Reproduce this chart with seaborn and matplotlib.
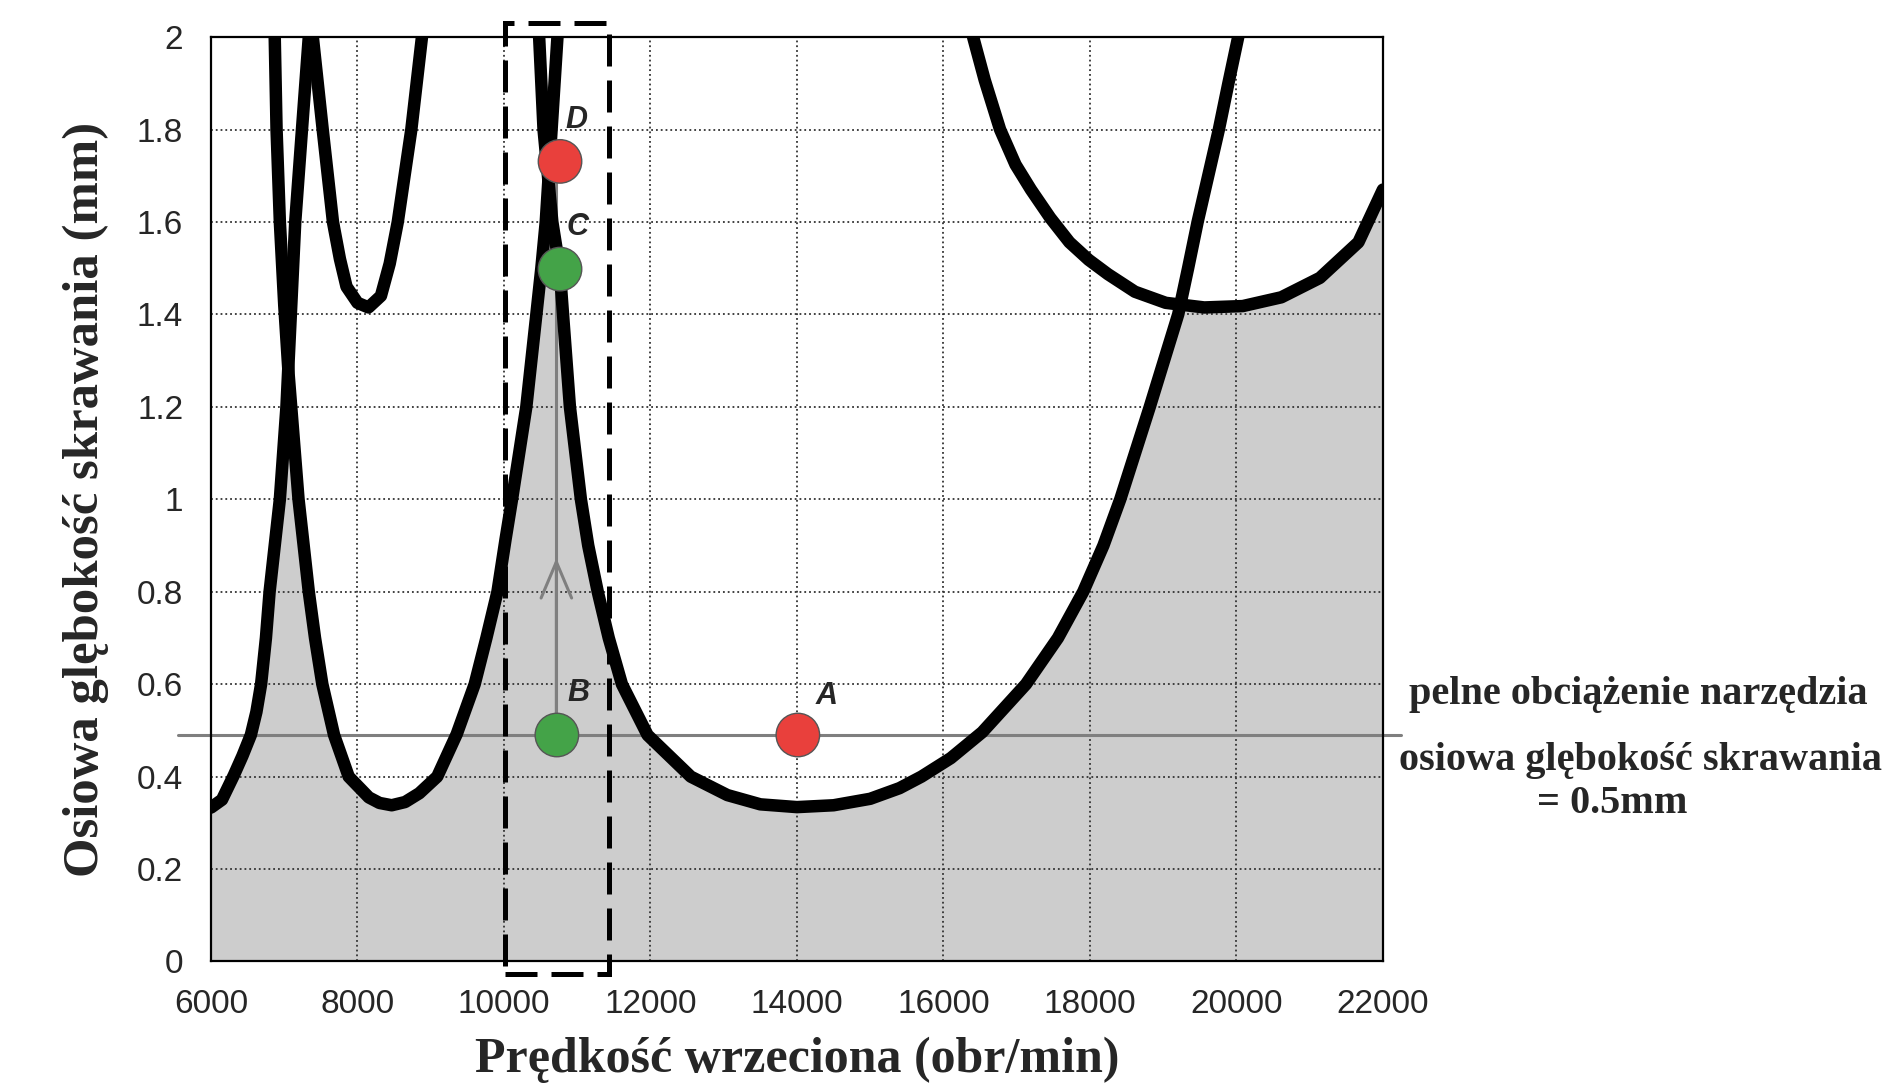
import numpy as np
import pandas as pd
import matplotlib.pyplot as plt
import seaborn as sns
from matplotlib.patches import Rectangle

# stability lobes: spindle speed (obr/min) vs axial depth (mm)
lobe_a_rpm = [6000, 6150, 6312, 6430, 6544, 6620, 6684, 6750, 6800, 6870, 6940, 7030, 7090, 7150, 7242, 7335]
lobe_a_depth = [0.333, 0.350, 0.403, 0.445, 0.490, 0.540, 0.600, 0.700, 0.800, 0.900, 1.000, 1.200, 1.400,
                1.600, 1.800, 2.000]

lobe_b_rpm = [6870, 6895, 6940, 7000, 7060, 7130, 7195, 7265, 7335, 7420, 7520, 7680, 7880, 8155, 8300,
              8467, 8650, 8844, 9089, 9355, 9600, 9760, 9911, 10022, 10110, 10305, 10442, 10510, 10570,
              10650, 10730]
lobe_b_depth = [2.000, 1.800, 1.600, 1.420, 1.270, 1.130, 1.000, 0.900, 0.800, 0.700, 0.600, 0.490, 0.400,
                0.355, 0.343, 0.338, 0.345, 0.364, 0.400, 0.492, 0.600, 0.700, 0.800, 0.914, 1.000, 1.200,
                1.400, 1.500, 1.600, 1.800, 2.000]

lobe_up_rpm = [7390, 7525, 7665, 7760, 7850, 8000, 8150, 8320, 8440, 8550, 8735, 8880]
lobe_up_depth = [2.000, 1.800, 1.600, 1.520, 1.460, 1.425, 1.415, 1.440, 1.510, 1.600, 1.800, 2.000]

lobe_c_rpm = [10480, 10540, 10660, 10760, 10806, 10900, 11050, 11150, 11280, 11430, 11610, 11960, 12550,
              13050, 13500, 14000, 14500, 15000, 15400, 15700, 16100, 16529, 17127, 17563, 17908, 18184,
              18414, 18817, 19205, 19340, 19470, 19615, 19760, 19890, 20024]
lobe_c_depth = [2.000, 1.800, 1.600, 1.500, 1.400, 1.200, 1.000, 0.900, 0.800, 0.700, 0.600, 0.490, 0.400,
                0.360, 0.340, 0.334, 0.338, 0.352, 0.375, 0.400, 0.440, 0.496, 0.600, 0.700, 0.800, 0.900,
                1.000, 1.200, 1.400, 1.500, 1.600, 1.700, 1.800, 1.900, 2.000]

lobe_d_rpm = [16405, 16563, 16773, 16984, 17194, 17457, 17720, 17983, 18246, 18614, 19035, 19561, 20087,
              20613, 21139, 21665, 22000]
lobe_d_depth = [2.000, 1.907, 1.800, 1.724, 1.670, 1.609, 1.556, 1.518, 1.487, 1.449, 1.425, 1.415, 1.418,
                1.437, 1.479, 1.556, 1.670]

lobes = [(lobe_a_rpm, lobe_a_depth), (lobe_b_rpm, lobe_b_depth), (lobe_up_rpm, lobe_up_depth),
         (lobe_c_rpm, lobe_c_depth), (lobe_d_rpm, lobe_d_depth)]

# operating points
point_names = ["A", "B", "C", "D"]
point_rpm = [14012, 10722, 10765, 10765]
point_depth = [0.49, 0.49, 1.498, 1.731]
point_colors = ["#E9403C", "#44A348", "#44A348", "#E9403C"]
label_rpm = [14400, 11020, 11000, 10990]
label_depth = [0.575, 0.58, 1.59, 1.82]

full_load = 0.49
load_line_rpm = [5550, 22250]
arrow_tip = 0.873
box_rpm = [10010, 11430]
box_depth = [-0.027, 2.03]

xticks = list(range(6000, 22001, 2000))
yticks = [0, 0.2, 0.4, 0.6, 0.8, 1, 1.2, 1.4, 1.6, 1.8, 2]

sns.set_style("white")
plt.rcParams['font.family'] = ['Liberation Sans', 'DejaVu Sans']

fig = plt.figure(figsize=(18.89, 10.90), dpi=100)
ax = fig.add_axes([0.1117, 0.1179, 0.6204, 0.8481])

# stable region = lower envelope of all lobes
grid = np.linspace(6000, 22000, 3201)
curves = []
for r, d in lobes:
    c = np.interp(grid, r, d, left=np.nan, right=np.nan)
    curves.append(c)
envelope = np.clip(np.nanmin(np.vstack(curves), axis=0), 0, 2)
ax.fill_between(grid, 0, envelope, color="#CDCDCD", lw=0, zorder=0.2)

for r, d in lobes:
    df = pd.DataFrame({"rpm": r, "depth": d})
    sns.lineplot(data=df, x="rpm", y="depth", sort=False, estimator=None, color="black",
                 lw=9, solid_capstyle="round", solid_joinstyle="round", ax=ax, zorder=3)

# full tool load line
ax.plot(load_line_rpm, [full_load, full_load], color="#7F7F7F", lw=2.2, clip_on=False, zorder=2.5)

# vertical move B -> D with open arrow head
ax.plot([point_rpm[1] - 7, point_rpm[3] - 50], [point_depth[1], point_depth[3]],
        color="#7F7F7F", lw=2.2, zorder=2.6)
ax.annotate("", xy=(point_rpm[1] - 7, arrow_tip), xytext=(point_rpm[1] - 7, point_depth[1]),
            arrowprops=dict(arrowstyle="->,head_length=1.3,head_width=0.55", color="#7F7F7F",
                            lw=2.2, mutation_scale=20, shrinkA=0, shrinkB=0), zorder=2.6)

pts = pd.DataFrame({"rpm": point_rpm, "depth": point_depth, "name": point_names})
sns.scatterplot(data=pts, x="rpm", y="depth", hue="name", palette=dict(zip(point_names, point_colors)),
                s=980, edgecolor="#555555", linewidth=1.0, legend=False, ax=ax, zorder=5)
for n, x, y in zip(point_names, label_rpm, label_depth):
    ax.text(x, y, n, fontsize=22, fontweight="bold", fontstyle="italic", ha="center", va="center",
            family=["Liberation Sans", "DejaVu Sans"], zorder=6)

# dashed box around the chosen speed range
ax.add_patch(Rectangle((box_rpm[0], box_depth[0]), box_rpm[1] - box_rpm[0], box_depth[1] - box_depth[0],
                       fill=False, ec="black", lw=3.6, ls=(0, (6.4, 2.8)), clip_on=False, zorder=4))

ax.set_xlim(6000, 22000)
ax.set_ylim(0, 2)
ax.set_xticks(xticks)
ax.set_yticks(yticks)
ax.set_yticklabels(["%g" % t for t in yticks])
ax.set_axisbelow(True)
ax.grid(True, ls=":", lw=1.3, color="#333333")
ax.tick_params(direction="in", length=10, width=2, labelsize=24, pad=20, color="#222222")
for s in ax.spines.values():
    s.set_linewidth(1.6)
    s.set_color("black")

serif = ["Liberation Serif", "DejaVu Serif"]
ax.set_xlabel("Prędkość wrzeciona (obr/min)", fontsize=36, fontweight="bold", family=serif, labelpad=12)
ax.set_ylabel("Osiowa glębokość skrawania (mm)", fontsize=36.5, fontweight="bold", family=serif, labelpad=20)

fig.text(0.8674, 0.363, "pelne obciążenie narzędzia", fontsize=29, fontweight="bold", family=serif,
         ha="center", va="center")
fig.text(0.8685, 0.302, "osiowa glębokość skrawania", fontsize=29, fontweight="bold", family=serif,
         ha="center", va="center")
fig.text(0.8537, 0.263, "= 0.5mm", fontsize=29, fontweight="bold", family=serif, ha="center", va="center")

fig.savefig("out.png", dpi=100)
